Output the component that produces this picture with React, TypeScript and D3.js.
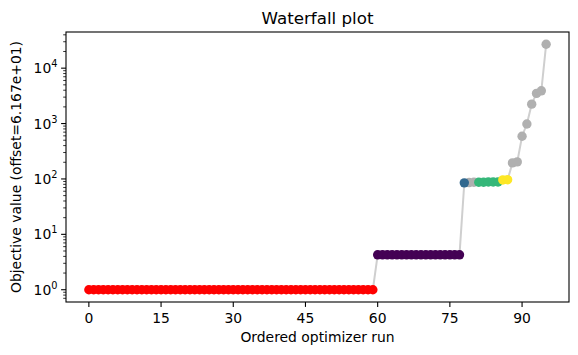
import React from "react";
import * as d3 from "d3";

// objective values, already ordered (offset subtracted)
const redRuns = [
  1, 1, 1, 1, 1, 1, 1, 1, 1, 1, 1, 1, 1, 1, 1, 1, 1, 1, 1, 1,
  1, 1, 1, 1, 1, 1, 1, 1, 1, 1, 1, 1, 1, 1, 1, 1, 1, 1, 1, 1,
  1, 1, 1, 1, 1, 1, 1, 1, 1, 1, 1, 1, 1, 1, 1, 1, 1, 1, 1, 1,
];
const purpleRuns = [
  4.27, 4.27, 4.27, 4.27, 4.27, 4.27, 4.27, 4.27, 4.27,
  4.27, 4.27, 4.27, 4.27, 4.27, 4.27, 4.27, 4.27, 4.27,
];
const blueRuns = [85];
const grayMidRuns = [86, 87];
const greenRuns = [87, 87, 88, 88, 88];
const yellowRuns = [96, 97];
const grayTailRuns = [195, 203, 590, 980, 2240, 3500, 3900, 27000];

const groups = [
  { values: redRuns, color: "#ff0000" },
  { values: purpleRuns, color: "#440154" },
  { values: blueRuns, color: "#31688e" },
  { values: grayMidRuns, color: "#b0b0b0" },
  { values: greenRuns, color: "#35b779" },
  { values: yellowRuns, color: "#fde725" },
  { values: grayTailRuns, color: "#b0b0b0" },
];

const xTicks = [0, 15, 30, 45, 60, 75, 90];
const yTicks = [0, 1, 2, 3, 4]; // exponents

const title = "Waterfall plot";
const xLabel = "Ordered optimizer run";
const yLabel = "Objective value (offset=6.167e+01)";

export default function App() {
  const width = 578;
  const height = 355;
  const margin = { top: 32, right: 9, bottom: 53, left: 66 };
  const plotWidth = width - margin.left - margin.right;
  const plotHeight = height - margin.top - margin.bottom;

  // flatten groups into points with their run index
  let idx = 0;
  const points: { x: number; y: number; color: string }[] = [];
  groups.forEach((g) => {
    g.values.forEach((v) => {
      points.push({ x: idx, y: v, color: g.color });
      idx += 1;
    });
  });
  const n = points.length;

  const xPad = (n - 1) * 0.05;
  const xScale = d3
    .scaleLinear()
    .domain([-xPad, n - 1 + xPad])
    .range([0, plotWidth]);

  const logMin = Math.log10(d3.min(points, (d) => d.y) as number);
  const logMax = Math.log10(d3.max(points, (d) => d.y) as number);
  const yPad = (logMax - logMin) * 0.05;
  const yScale = d3
    .scaleLog()
    .domain([Math.pow(10, logMin - yPad), Math.pow(10, logMax + yPad)])
    .range([plotHeight, 0]);

  const [yLo, yHi] = yScale.domain();
  const minorTicks: number[] = [];
  for (let e = -1; e <= 5; e++) {
    for (let m = 2; m <= 9; m++) {
      const v = m * Math.pow(10, e);
      if (v >= yLo && v <= yHi) minorTicks.push(v);
    }
  }

  const line = d3
    .line<{ x: number; y: number }>()
    .x((d) => xScale(d.x))
    .y((d) => yScale(d.y));

  const font = "DejaVu Sans, sans-serif";
  const grayPts = points.filter((p) => p.color === "#b0b0b0");
  const colorPts = points.filter((p) => p.color !== "#b0b0b0");

  return (
    <svg
      width={width}
      height={height}
      style={{ position: "absolute", left: 0, top: 0, background: "white" }}
      fontFamily={font}
    >
      <text
        x={margin.left + plotWidth / 2}
        y={24}
        textAnchor="middle"
        fontSize={16.7}
      >
        {title}
      </text>
      <g transform={`translate(${margin.left}, ${margin.top})`}>
        <path
          d={line(points) as string}
          fill="none"
          stroke="#cfcfcf"
          strokeWidth={2}
        />
        {grayPts.map((p) => (
          <circle
            key={`g-${p.x}`}
            cx={xScale(p.x)}
            cy={yScale(p.y)}
            r={4.7}
            fill={p.color}
          />
        ))}
        {colorPts.map((p) => (
          <circle
            key={`c-${p.x}`}
            cx={xScale(p.x)}
            cy={yScale(p.y)}
            r={4.7}
            fill={p.color}
          />
        ))}

        {/* axes frame */}
        <rect
          x={0}
          y={0}
          width={plotWidth}
          height={plotHeight}
          fill="none"
          stroke="black"
          strokeWidth={1.1}
        />

        {/* X-axis */}
        <g transform={`translate(0, ${plotHeight})`}>
          {xTicks.map((tick) => (
            <g key={tick} transform={`translate(${xScale(tick)}, 0)`}>
              <line x1={0} y1={0} x2={0} y2={4.9} stroke="black" strokeWidth={1.1} />
              <text x={0} y={20.5} textAnchor="middle" fontSize={13.9}>
                {tick}
              </text>
            </g>
          ))}
          <text x={plotWidth / 2} y={40} textAnchor="middle" fontSize={13.9}>
            {xLabel}
          </text>
        </g>

        {/* Y-axis */}
        <g>
          {minorTicks.map((v) => (
            <line
              key={`m-${v}`}
              x1={-2.8}
              x2={0}
              y1={yScale(v)}
              y2={yScale(v)}
              stroke="black"
              strokeWidth={0.8}
            />
          ))}
          {yTicks.map((e) => (
            <g key={e} transform={`translate(0, ${yScale(Math.pow(10, e))})`}>
              <line x1={-4.9} y1={0} x2={0} y2={0} stroke="black" strokeWidth={1.1} />
              <text x={-8.5} y={5} textAnchor="end" fontSize={13.9}>
                10
                <tspan fontSize={9.8} dy={-6}>
                  {e}
                </tspan>
              </text>
            </g>
          ))}
          <text
            transform={`translate(${16 - margin.left + 5}, ${plotHeight / 2}) rotate(-90)`}
            textAnchor="middle"
            fontSize={13.9}
          >
            {yLabel}
          </text>
        </g>
      </g>
    </svg>
  );
}
